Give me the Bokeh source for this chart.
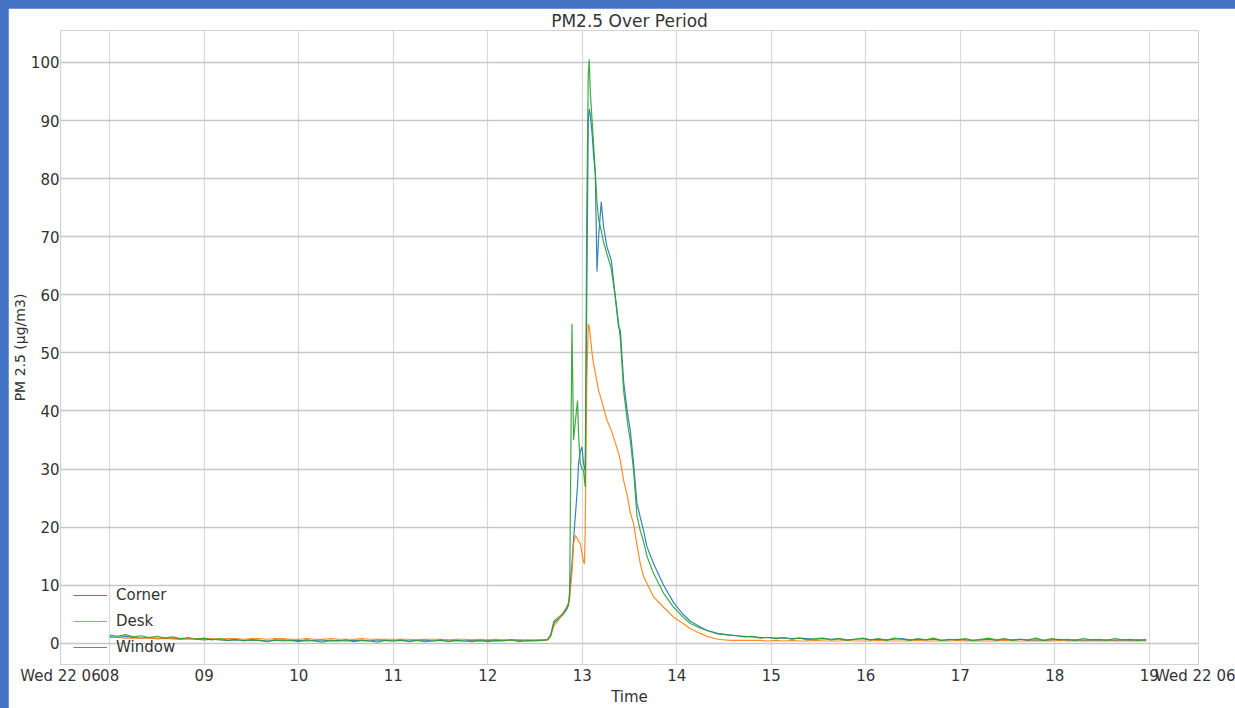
import pandas as pd
from bokeh.plotting import figure
from bokeh.models import FixedTicker, Legend, LegendItem
from bokeh.embed import file_html
from bokeh.resources import INLINE

# ---------------- data ----------------
SERIES = ["Corner", "Desk", "Window"]
COLORS = ["#1f77b4", "#ff7f0e", "#2ca02c"]

# 5-minute samples before the event (08:00 .. 12:30)
PRE_TIMES = [t.strftime("%H:%M:%S") for t in pd.date_range("2000-01-01 08:00", "2000-01-01 12:30", freq="5min")]
CORNER_PRE = [1.1, 1.0, 1.2, 1.0, 0.9, 1.0, 0.8, 0.9, 0.8, 0.7, 0.8, 0.7,
              0.6, 0.7, 0.6, 0.5, 0.6, 0.5, 0.6, 0.5, 0.4, 0.5, 0.6, 0.5,
              0.5, 0.4, 0.5, 0.6, 0.4, 0.5, 0.4, 0.5, 0.5, 0.4, 0.6, 0.5,
              0.4, 0.5, 0.4, 0.5, 0.6, 0.4, 0.5, 0.4, 0.5, 0.4, 0.5, 0.4,
              0.5, 0.4, 0.5, 0.6, 0.5, 0.4, 0.5]
DESK_PRE = [1.0, 1.0, 0.9, 0.9, 0.9, 0.9, 0.8, 0.8, 0.8, 0.8, 0.8, 0.8,
            0.8, 0.8, 0.7, 0.8, 0.8, 0.7, 0.8, 0.8, 0.7, 0.8, 0.8, 0.7,
            0.7, 0.8, 0.7, 0.7, 0.8, 0.7, 0.7, 0.7, 0.8, 0.7, 0.7, 0.7,
            0.7, 0.7, 0.7, 0.6, 0.7, 0.7, 0.7, 0.6, 0.7, 0.7, 0.6, 0.7,
            0.6, 0.7, 0.6, 0.6, 0.6, 0.6, 0.6]
WINDOW_PRE = [1.4, 1.2, 1.5, 1.1, 1.3, 1.0, 1.2, 0.9, 1.1, 0.8, 1.0, 0.7,
              0.9, 0.6, 0.8, 0.5, 0.7, 0.4, 0.6, 0.5, 0.3, 0.6, 0.4, 0.5,
              0.3, 0.6, 0.4, 0.2, 0.5, 0.4, 0.6, 0.3, 0.5, 0.4, 0.2, 0.5,
              0.4, 0.6, 0.3, 0.5, 0.3, 0.4, 0.6, 0.3, 0.5, 0.4, 0.3, 0.5,
              0.3, 0.5, 0.4, 0.6, 0.3, 0.5, 0.4]

# event samples (12:35 .. 14:34)
PEAK_TIMES = ["12:35:00", "12:38:00", "12:40:00", "12:42:00", "12:45:00", "12:48:00",
              "12:50:00", "12:51:18", "12:52:00", "12:53:28", "12:54:30", "12:55:34",
              "12:57:00", "12:57:40", "12:58:44", "12:59:49", "13:00:50", "13:01:26",
              "13:01:55", "13:02:53", "13:03:50", "13:04:26", "13:05:06", "13:06:11",
              "13:07:12", "13:08:17", "13:09:22", "13:10:23", "13:12:04", "13:13:34",
              "13:15:43", "13:18:25", "13:21:00", "13:23:06", "13:24:11", "13:26:17",
              "13:28:48", "13:30:29", "13:32:35", "13:34:44", "13:36:50", "13:38:56",
              "13:41:06", "13:45:18", "13:51:40", "13:58:00", "14:04:00", "14:08:38",
              "14:15:00", "14:19:16", "14:26:00", "14:34:00"]
CORNER_PEAK = [0.6, 0.7, 1.5, 3.5, 4.2, 5.0, 5.8, 6.5, 9.0, 13.7, 18.0, 21.7,
               27.0, 31.0, 33.0, 33.8, 31.0, 30.0, 29.8, 60.0, 90.0, 92.0, 91.0, 88.0,
               84.0, 80.9, 64.0, 70.0, 76.0, 71.6, 68.2, 66.0, 59.6, 54.4, 53.9, 45.0,
               39.5, 36.7, 31.0, 24.1, 21.7, 19.4, 16.6, 13.7, 10.0, 7.0, 5.0, 3.8,
               2.8, 2.2, 1.7, 1.4]
DESK_PEAK = [0.6, 0.6, 1.2, 3.0, 4.0, 5.3, 6.2, 6.8, 8.0, 12.0, 17.2, 18.6,
             18.0, 17.5, 17.2, 15.5, 14.0, 13.7, 20.0, 45.0, 55.0, 54.5, 53.0, 50.0,
             48.1, 46.5, 45.0, 43.5, 42.0, 40.5, 38.4, 36.7, 34.5, 32.7, 31.5, 28.0,
             25.2, 22.5, 20.6, 17.0, 13.7, 11.5, 10.3, 8.0, 6.2, 4.5, 3.4, 2.5,
             1.7, 1.2, 0.7, 0.5]
WINDOW_PEAK = [0.5, 0.6, 1.3, 3.8, 4.5, 5.2, 6.0, 7.0, 8.0, 55.0, 35.0, 38.0,
               41.8, 36.0, 31.0, 30.0, 29.8, 28.0, 26.9, 75.0, 98.0, 100.5, 95.0, 90.3,
               86.0, 80.9, 76.0, 73.0, 71.0, 69.0, 67.0, 64.5, 59.6, 55.0, 52.5, 43.5,
               37.8, 35.0, 29.8, 22.0, 19.4, 17.5, 15.0, 12.0, 8.6, 6.2, 4.5, 3.4,
               2.6, 2.2, 1.6, 1.4]

# 5-minute samples after the event (14:38 .. 18:58)
POST_TIMES = [t.strftime("%H:%M:%S") for t in pd.date_range("2000-01-01 14:38", "2000-01-01 18:58", freq="5min")]
CORNER_POST = [1.3, 1.2, 1.1, 1.0, 1.0, 0.9, 0.9, 0.8, 0.9, 0.8, 0.7, 0.8,
               0.7, 0.8, 0.6, 0.7, 0.8, 0.6, 0.7, 0.6, 0.7, 0.8, 0.6, 0.7,
               0.6, 0.7, 0.5, 0.6, 0.7, 0.6, 0.5, 0.6, 0.7, 0.5, 0.6, 0.6,
               0.7, 0.5, 0.6, 0.5, 0.6, 0.7, 0.5, 0.6, 0.5, 0.6, 0.5, 0.6,
               0.5, 0.6, 0.5, 0.6, 0.5]
DESK_POST = [0.5, 0.5, 0.5, 0.5, 0.4, 0.5, 0.4, 0.5, 0.4, 0.4, 0.5, 0.4,
             0.4, 0.4, 0.5, 0.4, 0.4, 0.4, 0.5, 0.4, 0.4, 0.4, 0.4, 0.5,
             0.4, 0.4, 0.4, 0.4, 0.5, 0.4, 0.4, 0.4, 0.4, 0.4, 0.5, 0.4,
             0.4, 0.4, 0.4, 0.4, 0.4, 0.5, 0.4, 0.4, 0.4, 0.4, 0.4, 0.4,
             0.4, 0.4, 0.4, 0.4, 0.4]
WINDOW_POST = [1.3, 1.1, 1.2, 0.9, 1.0, 0.8, 1.0, 0.7, 0.9, 0.6, 0.8, 0.9,
               0.6, 0.8, 0.5, 0.7, 0.9, 0.6, 0.8, 0.5, 0.9, 0.7, 0.5, 0.8,
               0.6, 0.9, 0.5, 0.7, 0.6, 0.8, 0.5, 0.7, 0.9, 0.6, 0.8, 0.5,
               0.7, 0.6, 0.9, 0.5, 0.8, 0.6, 0.7, 0.5, 0.8, 0.6, 0.7, 0.5,
               0.8, 0.6, 0.7, 0.5, 0.7]

Y_TICKS = [0, 10, 20, 30, 40, 50, 60, 70, 80, 90, 100]
HOUR_TICKS = [8, 9, 10, 11, 12, 13, 14, 15, 16, 17, 18, 19]
HOUR_LABELS = ["08", "09", "10", "11", "12", "13", "14", "15", "16", "17", "18", "19"]
EDGE_LABEL = "Wed 22 06"
XMIN, XMAX = 7.48, 19.52
YMIN, YMAX = -3.65, 105.5


def to_hours(s):
    h, m, sec = s.split(":")
    return int(h) + int(m) / 60 + int(sec) / 3600


times = [to_hours(s) for s in PRE_TIMES + PEAK_TIMES + POST_TIMES]
values = {
    "Corner": CORNER_PRE + CORNER_PEAK + CORNER_POST,
    "Desk": DESK_PRE + DESK_PEAK + DESK_POST,
    "Window": WINDOW_PRE + WINDOW_PEAK + WINDOW_POST,
}

FONT = "DejaVu Sans"
TEXT_COLOR = "#333333"
BLUE = "#4472C4"

p = figure(width=1227, height=700, x_range=(XMIN, XMAX), y_range=(YMIN, YMAX),
           output_backend="svg", toolbar_location=None,
           min_border_left=48, min_border_right=37, min_border_top=0, min_border_bottom=0,
           background_fill_color="white", border_fill_color="white",
           title="PM2.5 Over Period")

p.title.align = "center"
p.title.text_font = FONT
p.title.text_font_size = "17px"
p.title.text_font_style = "normal"
p.title.text_color = TEXT_COLOR
p.title.standoff = 0
p.title.offset = 0

renderers = []
for name, color in zip(SERIES, COLORS):
    r = p.line(times, values[name], line_color=color, line_width=1.2, line_alpha=0.9)
    renderers.append((name, r))

# axes
p.xaxis.ticker = FixedTicker(ticks=[XMIN] + HOUR_TICKS + [XMAX])
overrides = {XMIN: EDGE_LABEL, XMAX: EDGE_LABEL}
for t, lab in zip(HOUR_TICKS, HOUR_LABELS):
    overrides[t] = lab
p.xaxis.major_label_overrides = overrides
p.yaxis.ticker = FixedTicker(ticks=Y_TICKS)
p.xaxis.axis_label = "Time"
p.yaxis.axis_label = "PM 2.5 (μg/m3)"

for ax in (p.xaxis, p.yaxis):
    ax.axis_line_color = None
    ax.major_tick_line_color = None
    ax.minor_tick_line_color = None
    ax.major_tick_out = 0
    ax.major_tick_in = 0
    ax.major_label_text_font = FONT
    ax.major_label_text_font_size = "15px"
    ax.major_label_text_color = TEXT_COLOR
    ax.axis_label_text_font = FONT
    ax.axis_label_text_font_size = "15px"
    ax.axis_label_text_font_style = "normal"
    ax.axis_label_text_color = TEXT_COLOR
p.yaxis.axis_label_text_font_size = "14px"
p.xaxis.major_label_standoff = 2
p.xaxis.axis_label_standoff = 0
p.yaxis.major_label_standoff = 1
p.yaxis.axis_label_standoff = 0

p.xgrid.grid_line_color = "#dadada"
p.xgrid.grid_line_width = 1.2
p.ygrid.grid_line_color = "#c6c6c6"
p.ygrid.grid_line_width = 1.5
p.outline_line_color = "#d2d2d2"
p.outline_line_width = 1.2

legend = Legend(items=[LegendItem(label=n, renderers=[r]) for n, r in renderers],
                location=(13, 7))
legend.background_fill_alpha = 0
legend.border_line_color = None
legend.label_text_font = FONT
legend.label_text_font_size = "15px"
legend.label_text_color = TEXT_COLOR
legend.glyph_width = 34
legend.glyph_height = 20
legend.label_height = 20
legend.label_standoff = 9
legend.spacing = 6
legend.padding = 4
legend.margin = 0
p.add_layout(legend)

html = file_html(p, INLINE)
css = ("<style>html, body {margin: 0 !important; background-color: " + BLUE + " !important; "
       "overflow: hidden !important;} body {padding: 8px 0 0 8px !important; "
       "box-sizing: border-box !important;}</style>")
html = html.replace("</head>", css + "</head>", 1)
open("out.html", "w").write(html)
